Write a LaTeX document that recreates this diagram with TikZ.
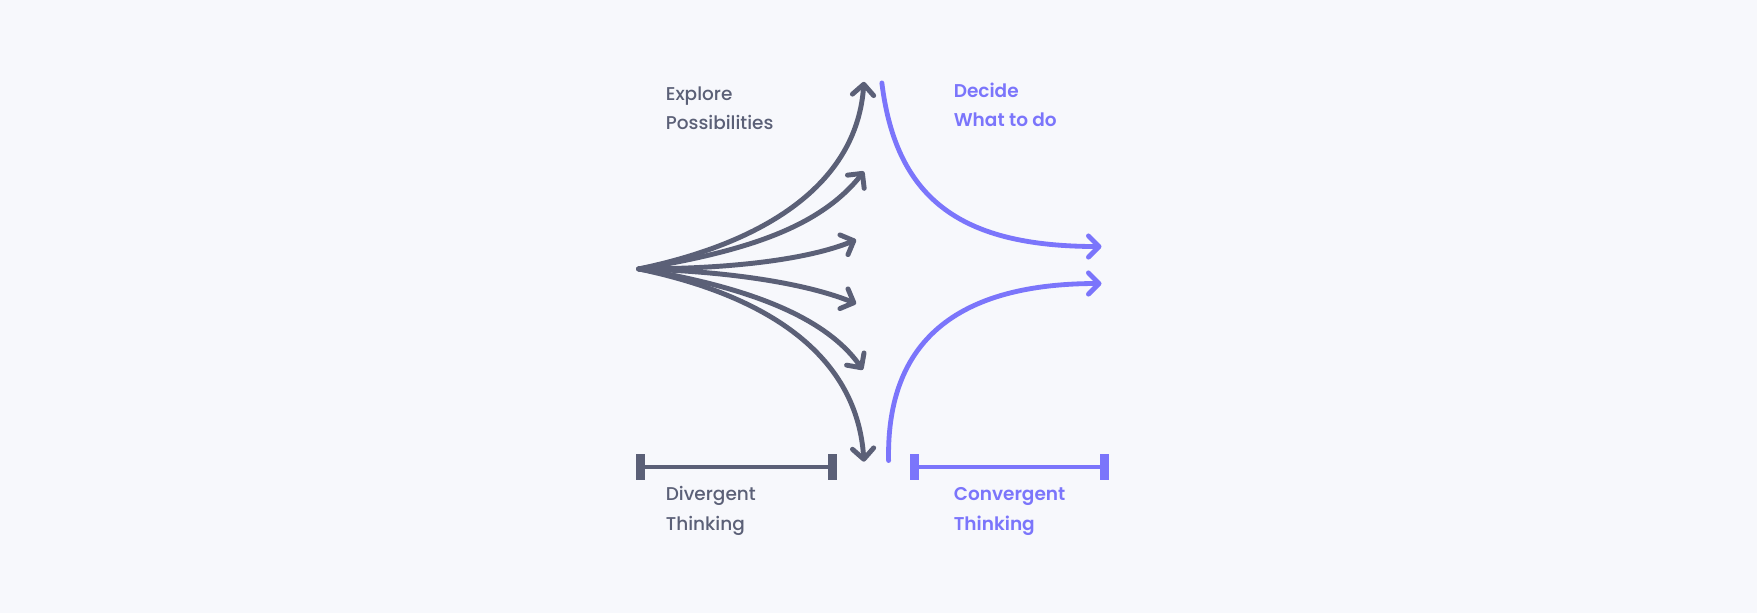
\documentclass[tikz,border=0pt]{standalone}
\usepackage{fontspec}
\setmainfont{Poppins}
\newfontfamily\pmed{Poppins}[UprightFont={* Medium}]
\newfontfamily\psemi{Poppins}[UprightFont={* SemiBold}]
\usetikzlibrary{arrows.meta}
\definecolor{bg}{HTML}{F7F8FC}
\definecolor{gray}{HTML}{5B6077}
\definecolor{purp}{HTML}{7B75FB}
\tikzset{
  divline/.style={draw=gray, line width=4.4pt, line cap=round, line join=round,
    -{Straight Barb[length=9.5pt,width=19pt,round]}},
  convline/.style={draw=purp, line width=4.3pt, line cap=round, line join=round},
  convarrow/.style={convline, -{Straight Barb[length=9.5pt,width=19pt,round]}},
  graytext/.style={anchor=base west, inner sep=0pt, text=gray, font=\pmed\fontsize{16.5}{26}\selectfont},
  purptext/.style={anchor=base west, inner sep=0pt, text=purp, font=\psemi\fontsize{16.5}{26}\selectfont},
  capbox/.style={minimum width=8pt, minimum height=23pt, inner sep=0pt, draw=none}
}
\begin{document}
\begin{tikzpicture}[x=1pt,y=-1pt]
\useasboundingbox (0,0) rectangle (1568,547);
\fill[bg] (0,0) rectangle (1568,547);
% divergent
\coordinate (O) at (570,240);
\coordinate (t1) at (771,73);
\coordinate (t2) at (771,153);
\coordinate (t3) at (764,214);
\coordinate (t4) at (764,271);
\coordinate (t5) at (770,330);
\coordinate (t6) at (771,412);
\draw[divline] (O) .. controls (690,215) and (765,160) .. (t1);
\draw[divline] (O) .. controls (660,225) and (730,205) .. (t2);
\draw[divline] (O) .. controls (650,240) and (720,232) .. (t3);
\draw[divline] (O) .. controls (650,242) and (720,253) .. (t4);
\draw[divline] (O) .. controls (660,255) and (735,280) .. (t5);
\draw[divline] (O) .. controls (690,265) and (765,320) .. (t6);
% convergent
\coordinate (c1) at (787,74);
\coordinate (e1) at (983,220);
\coordinate (c2) at (793,411);
\coordinate (e2) at (983,253);
\draw[convarrow] (c1) .. controls (800,180) and (860,220) .. (e1);
\draw[convarrow] (c2) .. controls (791,312) and (845,253) .. (e2);
% bars
\node[capbox, fill=gray] (dL) at (572,416.5) {};
\node[capbox, fill=gray] (dR) at (743,416.5) {};
\draw[draw=gray, line width=3.6pt] (dL.center) -- (dR.center);
\node[capbox, fill=purp] (cL) at (816,416.5) {};
\node[capbox, fill=purp] (cR) at (986,416.5) {};
\draw[draw=purp, line width=3.6pt] (cL.center) -- (cR.center);
% texts
\node[graytext] (ex1) at (594,90) {Explore};
\node[graytext] (ex2) at (594,116) {Possibilities};
\node[purptext] (de1) at (851,87) {Decide};
\node[purptext] (de2) at (851,113) {What to do};
\node[graytext] (dv1) at (594,447) {Divergent};
\node[graytext] (dv2) at (594,473) {Thinking};
\node[purptext] (cv1) at (851,447) {Convergent};
\node[purptext] (cv2) at (851,473) {Thinking};
\end{tikzpicture}
\end{document}
